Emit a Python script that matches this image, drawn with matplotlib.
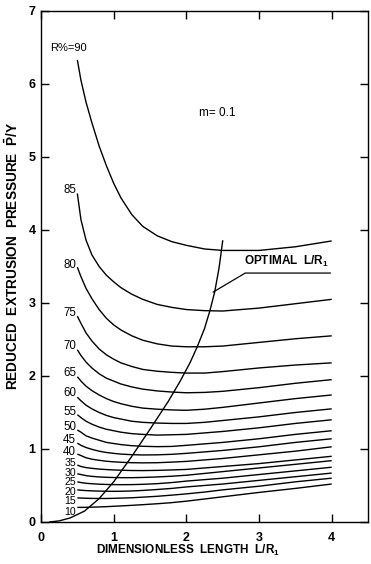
import matplotlib
matplotlib.use("Agg")
import matplotlib.pyplot as plt

plt.rcParams['font.family'] = ['Liberation Sans', 'DejaVu Sans']
plt.rcParams['mathtext.fontset'] = 'custom'
plt.rcParams['mathtext.rm'] = 'Liberation Sans:bold'
plt.rcParams['mathtext.bf'] = 'Liberation Sans:bold'
plt.rcParams['mathtext.it'] = 'Liberation Sans:bold'

# ---- data ----
x_grid = [0.5, 0.55, 0.62, 0.7, 0.8, 0.9, 1.0, 1.1, 1.25, 1.4, 1.6, 1.8, 2.0, 2.25, 2.5, 3.0, 3.5, 4.0]
reductions = [90, 85, 80, 75, 70, 65, 60, 55, 50, 45, 40, 35, 30, 25, 20, 15, 10]
p90 = [6.33, 6.05, 5.75, 5.47, 5.15, 4.88, 4.64, 4.44, 4.21, 4.05, 3.92, 3.84, 3.79, 3.74, 3.72, 3.72, 3.77, 3.85]
p85 = [4.50, 4.14, 3.86, 3.66, 3.50, 3.38, 3.29, 3.21, 3.12, 3.05, 2.98, 2.94, 2.91, 2.895, 2.89, 2.93, 2.99, 3.05]
p80 = [3.49, 3.36, 3.20, 3.06, 2.91, 2.79, 2.70, 2.63, 2.55, 2.49, 2.44, 2.41, 2.40, 2.40, 2.41, 2.46, 2.51, 2.55]
p75 = [2.82, 2.72, 2.59, 2.48, 2.37, 2.29, 2.23, 2.18, 2.13, 2.09, 2.065, 2.05, 2.04, 2.04, 2.06, 2.11, 2.15, 2.18]
p70 = [2.36, 2.28, 2.19, 2.11, 2.03, 1.97, 1.93, 1.89, 1.85, 1.82, 1.795, 1.78, 1.77, 1.775, 1.79, 1.84, 1.90, 1.95]
p65 = [1.99, 1.93, 1.86, 1.80, 1.74, 1.69, 1.65, 1.62, 1.585, 1.56, 1.545, 1.535, 1.53, 1.545, 1.57, 1.63, 1.69, 1.74]
p60 = [1.71, 1.66, 1.60, 1.55, 1.50, 1.46, 1.43, 1.41, 1.38, 1.365, 1.355, 1.35, 1.35, 1.365, 1.39, 1.44, 1.50, 1.55]
p55 = [1.47, 1.43, 1.38, 1.34, 1.30, 1.27, 1.25, 1.23, 1.21, 1.20, 1.19, 1.195, 1.20, 1.22, 1.24, 1.29, 1.35, 1.40]
p50 = [1.26, 1.23, 1.18, 1.15, 1.12, 1.09, 1.075, 1.06, 1.045, 1.037, 1.032, 1.035, 1.05, 1.07, 1.09, 1.14, 1.20, 1.25]
p45 = [1.08, 1.05, 1.02, 0.995, 0.97, 0.952, 0.94, 0.93, 0.922, 0.918, 0.92, 0.927, 0.94, 0.96, 0.98, 1.03, 1.09, 1.14]
p40 = [0.93, 0.91, 0.88, 0.86, 0.845, 0.832, 0.824, 0.818, 0.812, 0.81, 0.812, 0.82, 0.83, 0.85, 0.87, 0.92, 0.97, 1.03]
p35 = [0.78, 0.76, 0.745, 0.735, 0.725, 0.718, 0.713, 0.709, 0.705, 0.704, 0.707, 0.713, 0.72, 0.74, 0.76, 0.80, 0.85, 0.90]
p30 = [0.66, 0.65, 0.635, 0.625, 0.617, 0.612, 0.609, 0.607, 0.607, 0.61, 0.617, 0.627, 0.64, 0.665, 0.69, 0.74, 0.79, 0.84]
p25 = [0.55, 0.54, 0.53, 0.524, 0.518, 0.514, 0.512, 0.511, 0.512, 0.516, 0.525, 0.54, 0.56, 0.58, 0.60, 0.65, 0.70, 0.75]
p20 = [0.44, 0.435, 0.43, 0.426, 0.423, 0.421, 0.42, 0.421, 0.425, 0.432, 0.445, 0.46, 0.48, 0.50, 0.52, 0.57, 0.62, 0.67]
p15 = [0.33, 0.328, 0.325, 0.323, 0.322, 0.322, 0.324, 0.327, 0.332, 0.34, 0.352, 0.368, 0.385, 0.41, 0.44, 0.49, 0.55, 0.60]
p10 = [0.20, 0.20, 0.201, 0.203, 0.206, 0.21, 0.215, 0.22, 0.228, 0.237, 0.25, 0.265, 0.285, 0.315, 0.345, 0.405, 0.46, 0.52]
curves = [p90, p85, p80, p75, p70, p65, p60, p55, p50, p45, p40, p35, p30, p25, p20, p15, p10]

opt_x = [0.12, 0.25, 0.4, 0.6, 0.8, 1.0, 1.25, 1.5, 1.75, 1.91, 2.05, 2.15, 2.25, 2.32, 2.39, 2.45, 2.5]
opt_y = [0.0, 0.015, 0.055, 0.15, 0.32, 0.55, 0.90, 1.27, 1.65, 1.92, 2.18, 2.40, 2.65, 2.88, 3.15, 3.48, 3.85]

x_ticks = [0, 1, 2, 3, 4]
y_ticks = [0, 1, 2, 3, 4, 5, 6, 7]

# label vertical offsets (layout only)
label_dy = [0, 0.05, 0.03, 0.04, 0.05, 0.05, 0.06, 0.04, 0.04, 0.04, 0.03, 0.03, 0.01, 0.0, -0.03, -0.04, -0.06]

fig = plt.figure(figsize=(3.71, 5.64), dpi=100)
ax = fig.add_axes([0.1105, 0.0745, 0.8815, 0.906])

for r, ys, dy in zip(reductions, curves, label_dy):
    ax.plot(x_grid, ys, color='black', lw=1.0, solid_capstyle='butt')
    if r == 90:
        ax.text(x_grid[0] - 0.12, ys[0] + 0.16, 'R%=90', fontsize=8,
                ha='center', va='center')
    else:
        fs = 8.3 if r >= 40 else 7.6
        ax.text(x_grid[0] - 0.015, ys[0] + dy, str(r), fontsize=fs,
                ha='right', va='center')

ax.plot(opt_x, opt_y, color='black', lw=1.0)

# leader for optimal label
ax.plot([2.37, 2.81, 3.98], [3.15, 3.41, 3.41], color='black', lw=0.9)
ax.text(3.38, 3.46, r'OPTIMAL  L/R$_{1}$', fontsize=8.5, fontweight='bold',
        ha='center', va='bottom')

ax.text(2.43, 5.6, 'm= 0.1', fontsize=8.5, ha='center', va='center')

ax.set_xlim(0, 4.5)
ax.set_ylim(0, 7)
ax.set_xticks(x_ticks)
ax.set_yticks(y_ticks)
ax.tick_params(direction='in', length=6, width=1, top=True, right=True,
               labelsize=9, pad=4)
ax.tick_params(axis='x', pad=7)
for lab in ax.get_xticklabels() + ax.get_yticklabels():
    lab.set_fontweight('bold')
for s in ax.spines.values():
    s.set_linewidth(1.0)

ax.set_xlabel(r'DIMENSIONLESS  LENGTH  L/R$_{1}$', fontsize=8.5, fontweight='bold')
ax.xaxis.set_label_coords(0.45, -0.041)
ax.set_ylabel(r'REDUCED  EXTRUSION  PRESSURE  $\bar{\mathrm{P}}$/Y', fontsize=9.8,
              fontweight='bold')
ax.yaxis.set_label_coords(-0.062, 0.52)

fig.savefig('out.png', dpi=100)
